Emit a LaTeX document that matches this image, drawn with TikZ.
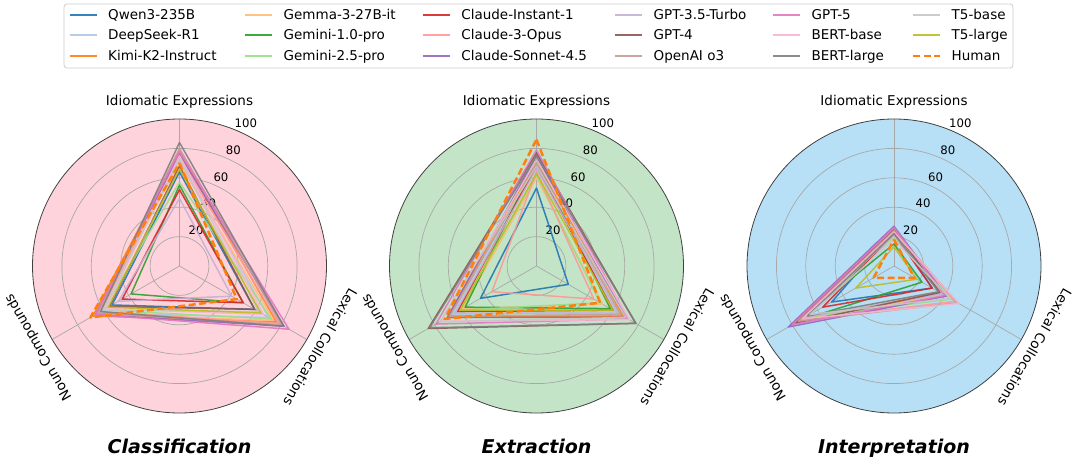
\documentclass[tikz,border=0pt]{standalone}
\usepackage{fontspec}
\setmainfont{DejaVu Sans}
\definecolor{c0}{HTML}{1F77B4}
\definecolor{c1}{HTML}{AEC7E8}
\definecolor{c2}{HTML}{FF7F0E}
\definecolor{c3}{HTML}{FFBB78}
\definecolor{c4}{HTML}{2CA02C}
\definecolor{c5}{HTML}{98DF8A}
\definecolor{c6}{HTML}{D62728}
\definecolor{c7}{HTML}{FF9896}
\definecolor{c8}{HTML}{9467BD}
\definecolor{c9}{HTML}{C5B0D5}
\definecolor{c10}{HTML}{8C564B}
\definecolor{c11}{HTML}{C49C94}
\definecolor{c12}{HTML}{E377C2}
\definecolor{c13}{HTML}{F7B6D2}
\definecolor{c14}{HTML}{7F7F7F}
\definecolor{c15}{HTML}{C7C7C7}
\definecolor{c16}{HTML}{BCBD22}
\definecolor{humc}{HTML}{FF7F0E}
\definecolor{bgpink}{HTML}{FFD3DC}
\definecolor{bggreen}{HTML}{C4E4C7}
\definecolor{bgblue}{HTML}{B7E0F6}
\definecolor{gridc}{HTML}{A8A8A8}
\definecolor{legc}{HTML}{CCCCCC}
\tikzset{
  ser/.style={line width=1.5pt, line join=round, draw opacity=0.9},
  s0/.style={ser,draw=c0}, s1/.style={ser,draw=c1}, s2/.style={ser,draw=c2},
  s3/.style={ser,draw=c3}, s4/.style={ser,draw=c4}, s5/.style={ser,draw=c5},
  s6/.style={ser,draw=c6}, s7/.style={ser,draw=c7}, s8/.style={ser,draw=c8},
  s9/.style={ser,draw=c9}, s10/.style={ser,draw=c10}, s11/.style={ser,draw=c11},
  s12/.style={ser,draw=c12}, s13/.style={ser,draw=c13}, s14/.style={ser,draw=c14},
  s15/.style={ser,draw=c15}, s16/.style={ser,draw=c16},
  hum/.style={line width=2.5pt, draw=humc, dash pattern=on 7pt off 3.5pt, line join=round},
  gridline/.style={draw=gridc, line width=0.7pt},
  lab/.style={font=\fontsize{13.5}{16}\selectfont, inner sep=0pt},
  ticklab/.style={font=\fontsize{11.7}{14}\selectfont, inner sep=0pt},
  ttl/.style={font=\fontsize{19}{22}\selectfont\bfseries\itshape, inner sep=0pt}
}
\newcommand\rdr[4]{\draw[#4] (90:#1) -- (-30:#2) -- (210:#3) -- cycle;}
\newcommand\radarframe[2]{%
  \fill[#2] (0,0) circle (100);
  \foreach \r in {20,40,60,80} \draw[gridline] (0,0) circle (\r);
  \foreach \a in {90,-30,210} \draw[gridline] (0,0) -- (\a:100);
  \foreach \r in {20,40,60,80,100} \node[ticklab] (#1t\r) at (65:\r+6.8) {\r};
  \node[lab] (#1ie) at (90:112) {Idiomatic Expressions};
  \node[lab, rotate=-120] (#1lc) at (-30:110.7) {Lexical Collocations};
  \node[lab, rotate=120] (#1nc) at (210:110.7) {Noun Compounds};
}
\newcommand\legent[4]{%
  \draw[#3] (#1,#2) -- ++(27,0);
  \node[lab, anchor=base west] at ([xshift=38.5pt,yshift=-5pt]#1,#2) {#4};
}
\begin{document}
\begin{tikzpicture}[x=1pt,y=1pt]
\useasboundingbox (0,0) rectangle (1080,459);
% ---------- Chart 1: Classification
\begin{scope}[shift={(179.5,193)},x=1.47pt,y=1.47pt]
  \radarframe{a}{bgpink}
  \rdr{64}{59}{53}{s0}
  \rdr{72}{70}{64}{s1}
  \rdr{78}{76}{68}{s2}
  \rdr{70}{74}{66}{s3}
  \rdr{55}{50}{38}{s4}
  \rdr{57}{72}{60}{s5}
  \rdr{52}{50}{45}{s6}
  \rdr{74}{78}{62}{s7}
  \rdr{76}{82}{66}{s8}
  \rdr{46}{41}{48}{s9}
  \rdr{68}{59}{55}{s10}
  \rdr{80}{80}{64}{s11}
  \rdr{78}{86}{66}{s12}
  \rdr{75}{66}{58}{s13}
  \rdr{84}{82}{62}{s14}
  \rdr{73}{62}{60}{s15}
  \rdr{66}{64}{56}{s16}
  \rdr{70}{45}{70}{hum}
  \draw[line width=0.8pt, black!75] (0,0) circle (100);
\end{scope}
% ---------- Chart 2: Extraction
\begin{scope}[shift={(536.5,193)},x=1.47pt,y=1.47pt]
  \radarframe{b}{bggreen}
  \rdr{53}{25}{44}{s0}
  \rdr{70}{62}{66}{s1}
  \rdr{72}{68}{70}{s2}
  \rdr{60}{52}{58}{s3}
  \rdr{72}{58}{56}{s4}
  \rdr{62}{50}{60}{s5}
  \rdr{68}{60}{62}{s6}
  \rdr{64}{45}{35}{s7}
  \rdr{75}{70}{70}{s8}
  \rdr{66}{64}{64}{s9}
  \rdr{77}{78}{85}{s10}
  \rdr{70}{66}{68}{s11}
  \rdr{79}{72}{79}{s12}
  \rdr{72}{73}{75}{s13}
  \rdr{75}{78}{84}{s14}
  \rdr{68}{70}{76}{s15}
  \rdr{63}{60}{60}{s16}
  \rdr{86}{50}{72}{hum}
  \draw[line width=0.8pt, black!75] (0,0) circle (100);
\end{scope}
% ---------- Chart 3: Interpretation
\begin{scope}[shift={(894,193)},x=1.47pt,y=1.47pt]
  \radarframe{c}{bgblue}
  \rdr{24}{30}{49}{s0}
  \rdr{22}{38}{74}{s1}
  \rdr{22}{36}{76}{s2}
  \rdr{20}{40}{72}{s3}
  \rdr{15}{22}{74}{s4}
  \rdr{20}{45}{70}{s5}
  \rdr{22}{30}{56}{s6}
  \rdr{24}{48}{74}{s7}
  \rdr{27}{41}{83}{s8}
  \rdr{21}{38}{70}{s9}
  \rdr{25}{36}{78}{s10}
  \rdr{24}{50}{75}{s11}
  \rdr{26}{40}{80}{s12}
  \rdr{23}{51}{72}{s13}
  \rdr{22}{35}{68}{s14}
  \rdr{18}{44}{66}{s15}
  \rdr{13}{18}{30}{s16}
  \rdr{18}{16}{16}{hum}
  \draw[line width=0.8pt, black!75] (0,0) circle (100);
\end{scope}
% ---------- Titles
\node[ttl, anchor=base] (t1) at (179.5,6) {Classification};
\node[ttl, anchor=base] (t2) at (536.5,6) {Extraction};
\node[ttl, anchor=base] (t3) at (894,6) {Interpretation};
% ---------- Legend
\node[draw=legc, line width=0.8pt, fill=white, rounded corners=3pt, minimum width=949pt, minimum height=64pt, inner sep=0pt] (legend) at (538.5,423) {};
\legent{69.5}{444}{s0}{Qwen3-235B}
\legent{69.5}{424}{s1}{DeepSeek-R1}
\legent{69.5}{403}{s2}{Kimi-K2-Instruct}
\legent{245}{444}{s3}{Gemma-3-27B-it}
\legent{245}{424}{s4}{Gemini-1.0-pro}
\legent{245}{403}{s5}{Gemini-2.5-pro}
\legent{422.7}{444}{s6}{Claude-Instant-1}
\legent{422.7}{424}{s7}{Claude-3-Opus}
\legent{422.7}{403}{s8}{Claude-Sonnet-4.5}
\legent{615}{444}{s9}{GPT-3.5-Turbo}
\legent{615}{424}{s10}{GPT-4}
\legent{615}{403}{s11}{OpenAI o3}
\legent{773}{444}{s12}{GPT-5}
\legent{773}{424}{s13}{BERT-base}
\legent{773}{403}{s14}{BERT-large}
\legent{913}{444}{s15}{T5-base}
\legent{913}{424}{s16}{T5-large}
\legent{913}{403}{hum}{Human}
\end{tikzpicture}
\end{document}
